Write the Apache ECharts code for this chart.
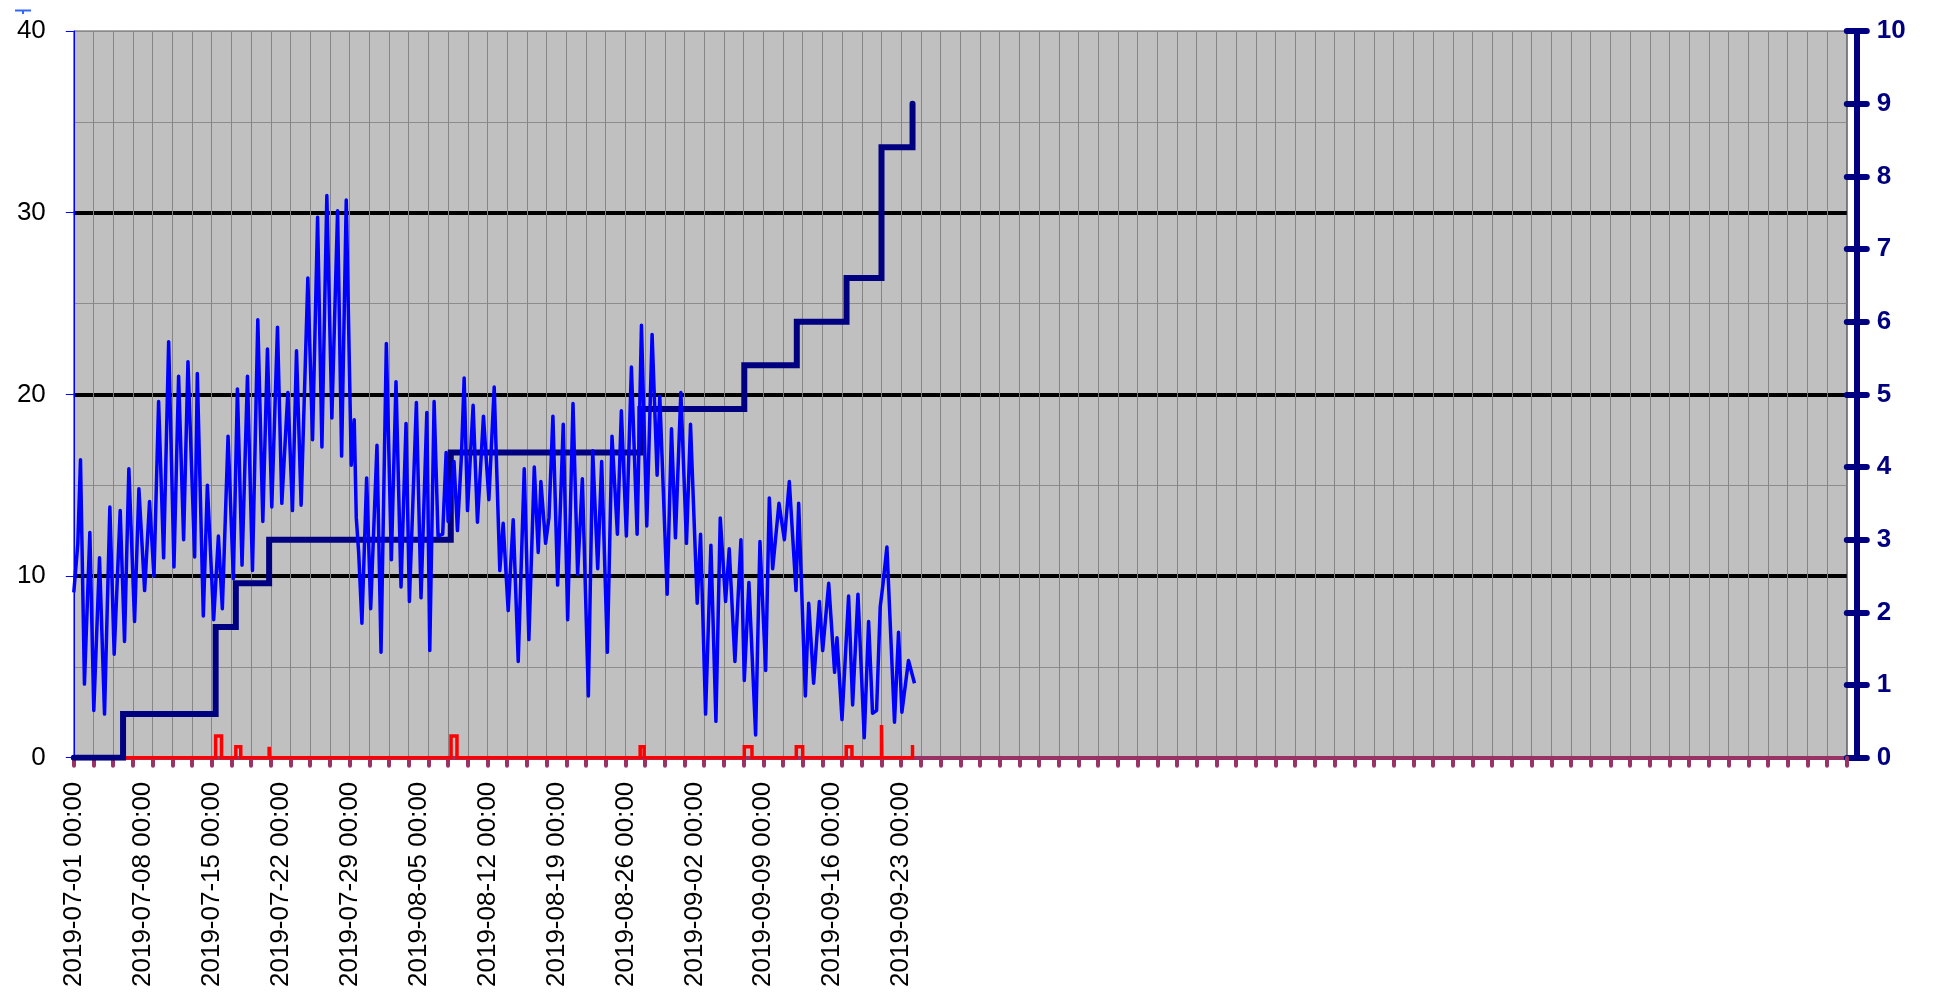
<!DOCTYPE html>
<html>
<head>
<meta charset="utf-8">
<script src="https://cdn.jsdelivr.net/npm/echarts@6/dist/echarts.min.js"></script>
<style>
html,body{margin:0;padding:0;background:#fff;}
#chart{width:1934px;height:995px;}
</style>
</head>
<body>
<div id="chart"></div>
<script>
// x values are days since 2019-07-01 00:00
const xLabels = ['2019-07-01 00:00','2019-07-08 00:00','2019-07-15 00:00','2019-07-22 00:00','2019-07-29 00:00',
  '2019-08-05 00:00','2019-08-12 00:00','2019-08-19 00:00','2019-08-26 00:00','2019-09-02 00:00',
  '2019-09-09 00:00','2019-09-16 00:00','2019-09-23 00:00'];
const leftTicks = [0, 10, 20, 30, 40];
const rightTicks = [0,1,2,3,4,5,6,7,8,9,10];

// Temperature (left axis)
const tempDays = [0.00,0.41,0.68,1.08,1.63,2.03,2.61,3.12,3.66,4.10,4.71,5.15,5.59,6.17,6.61,7.19,7.69,8.14,8.61,9.12,
  9.63,10.17,10.64,11.15,11.59,12.27,12.54,13.15,13.56,14.20,14.68,15.08,15.66,16.20,16.61,17.08,17.63,
  18.14,18.68,19.19,19.66,20.10,20.68,21.12,21.73,22.20,22.61,23.08,23.76,24.24,24.75,25.19,25.69,26.20,26.78,
  27.19,27.66,28.17,28.47,28.68,28.92,29.25,29.73,30.14,30.78,31.19,31.73,32.24,32.71,33.22,33.73,34.07,34.78,
  35.25,35.84,36.14,36.58,36.98,37.45,37.80,38.00,38.60,38.95,39.36,39.63,39.97,40.54,40.98,41.59,42.14,42.68,
  43.25,43.59,44.10,44.61,45.12,45.73,46.20,46.75,47.15,47.42,47.90,48.24,48.64,49.12,49.69,50.14,50.68,51.15,
  51.63,52.24,52.68,53.19,53.59,54.17,54.64,55.19,55.59,56.10,56.61,57.19,57.63,58.17,58.71,59.22,59.49,60.24,
  60.68,61.08,61.63,62.20,62.61,63.29,63.63,64.14,64.68,65.19,65.63,66.17,66.54,67.12,67.73,68.07,68.54,69.22,
  69.66,70.24,70.61,70.95,71.59,72.14,72.64,73.32,73.59,74.27,74.61,75.11,75.69,76.03,76.64,77.24,77.48,77.99,
  78.66,79.07,79.61,80.25,80.69,81.09,81.50,81.87,82.14,82.55,83.32,83.73,84.07,84.74,85.35];
const tempValues = [9.1,11.8,16.4,4.05,12.4,2.6,11.0,2.4,13.8,5.7,13.6,6.4,15.9,7.5,14.8,9.2,14.1,10.0,19.6,11.0,
  22.9,10.5,21.0,12.0,21.8,11.05,21.15,7.8,15.0,7.6,12.2,8.2,17.7,9.85,20.3,10.6,21.0,
  10.3,24.1,13.0,22.5,13.8,23.7,14.0,20.1,13.6,22.4,13.9,26.4,17.5,29.75,17.1,30.95,18.7,30.1,
  16.6,30.7,16.1,18.6,13.2,11.3,7.4,15.4,8.2,17.2,5.8,22.8,10.9,20.7,9.4,18.4,8.6,19.55,
  8.8,19.0,5.9,19.6,12.2,12.3,16.8,13.0,16.3,12.5,16.7,20.9,13.6,19.4,12.96,18.8,14.2,20.4,
  10.3,12.9,8.1,13.1,5.3,15.9,6.5,16.0,11.3,15.2,11.8,13.2,18.8,9.5,18.35,7.6,19.5,10.1,
  15.35,3.4,16.9,10.4,16.3,5.8,17.7,12.3,19.1,12.2,21.5,12.3,23.8,12.75,23.3,15.55,19.9,9.0,
  18.1,12.1,20.1,11.8,18.35,8.5,12.3,2.4,11.7,2.0,13.2,8.6,11.5,5.3,12.0,4.25,9.65,1.25,
  11.9,4.8,14.3,10.4,14.0,12.0,15.2,9.2,14.0,3.4,8.5,4.1,8.6,5.9,9.6,4.7,6.6,2.1,
  8.9,2.9,9.0,1.1,7.5,2.45,2.6,8.3,9.5,11.6,1.95,6.9,2.5,5.35,4.1];

// Cumulative (right axis)
const stepDays = [0, 5.0, 14.4, 16.45, 19.83, 38.27, 57.52, 68.07, 73.4, 78.45, 82.0, 85.15];
const stepValues = [0, 0.6, 1.8, 2.4, 3.0, 4.2, 4.8, 5.4, 6.0, 6.6, 8.4, 9.0];

// Per-event amounts (left axis)
const rainStart = [14.4, 16.45, 19.83, 38.3, 57.5, 68.07, 73.35, 78.42, 82.0, 85.15];
const rainEnd   = [15.0, 16.95, 19.88, 38.9, 57.9, 68.85, 74.0, 79.0, 82.04, 85.32];
const rainValue = [1.2, 0.6, 0.6, 1.2, 0.6, 0.6, 0.6, 0.6, 1.8, 0.6];

const tempData = tempDays.map((d, i) => [d, tempValues[i]]);
const stepData = stepDays.map((d, i) => [d, stepValues[i]]);
const rainData = [[0, 0]];
rainStart.forEach((s, i) => {
  rainData.push([s, 0], [s, rainValue[i]], [rainEnd[i], rainValue[i]]);
  if (i < rainStart.length - 1) rainData.push([rainEnd[i], 0]);
});

const FONT = '"Liberation Sans", Arial, sans-serif';
const NAVY = '#000080';
const gridBox = {left: 73.8, right: 87.2, top: 31, bottom: 237.3};
const chart = echarts.init(document.getElementById('chart'), null, {renderer: 'canvas'});
chart.setOption({
  animation: false,
  backgroundColor: '#ffffff',
  grid: [
    Object.assign({show: true, backgroundColor: '#c0c0c0', borderColor: '#555555', borderWidth: 1,
      containLabel: false, outerBoundsMode: 'none'}, gridBox),
    Object.assign({show: false, containLabel: false, outerBoundsMode: 'none'}, gridBox)
  ],
  graphic: [
    {type: 'line', shape: {x1: 15, y1: 10.5, x2: 31, y2: 10.5}, style: {stroke: '#3366ff', lineWidth: 2}},
    {type: 'line', shape: {x1: 23, y1: 10.5, x2: 23, y2: 14}, style: {stroke: '#3366ff', lineWidth: 2}}
  ],
  xAxis: [
    {
      gridIndex: 0, type: 'value', min: 0, max: 180, interval: 2, position: 'bottom',
      axisLine: {show: true, onZero: false, lineStyle: {color: '#993366', width: 4}},
      axisTick: {show: true, length: 8, lineStyle: {color: '#993366', width: 4, cap: 'round'}},
      axisLabel: {show: false},
      splitLine: {show: true, lineStyle: {color: '#858585', width: 1}}
    },
    {
      gridIndex: 1, type: 'value', min: 0, max: 180, interval: 7, position: 'bottom',
      axisLine: {show: false, onZero: false}, axisTick: {show: false}, splitLine: {show: false},
      axisLabel: {
        show: true, rotate: 90, margin: 24, fontSize: 26, color: '#000', fontFamily: FONT,
        formatter: v => { const i = Math.round(v / 7); return (v % 7 === 0 && i < xLabels.length) ? xLabels[i] : ''; }
      }
    }
  ],
  yAxis: [
    {
      gridIndex: 0, type: 'value', min: 0, max: 40, interval: 10, position: 'left',
      axisLine: {show: true, onZero: false, lineStyle: {color: '#0000ff', width: 1}},
      axisTick: {show: true, length: 8, lineStyle: {color: '#0000ff', width: 1}},
      axisLabel: {margin: 28, fontSize: 26, color: '#000', fontFamily: FONT,
        formatter: v => leftTicks.indexOf(v) >= 0 ? String(v) : ''},
      splitLine: {show: true, lineStyle: {color: ['transparent', '#000000', '#000000', '#000000', 'transparent'], width: 4}},
      minorTick: {show: false, splitNumber: 2},
      minorSplitLine: {show: true, lineStyle: {color: '#8c8c8c', width: 1}}
    },
    {
      gridIndex: 0, type: 'value', min: 0, max: 10, interval: 1, position: 'right', offset: 10,
      axisLine: {show: true, onZero: false, lineStyle: {color: NAVY, width: 6}},
      axisTick: {show: true, length: 10, lineStyle: {color: NAVY, width: 6, cap: 'round'}},
      axisLabel: {margin: 20, fontSize: 26, fontWeight: 'bold', color: NAVY, fontFamily: FONT,
        formatter: v => rightTicks.indexOf(v) >= 0 ? String(v) : ''},
      splitLine: {show: false}
    },
    {
      gridIndex: 1, type: 'value', min: 0, max: 10, interval: 1, position: 'right', offset: 0,
      axisLine: {show: false, onZero: false},
      axisTick: {show: true, length: 9, lineStyle: {color: NAVY, width: 6, cap: 'round'}},
      axisLabel: {show: false},
      splitLine: {show: false}
    }
  ],
  series: [
    {
      type: 'line', name: 'rain', data: rainData, xAxisIndex: 0, yAxisIndex: 0,
      showSymbol: false, symbol: 'none', z: 2,
      lineStyle: {color: '#ff0000', width: 3.5, join: 'miter'}
    },
    {
      type: 'line', name: 'cumulative', data: stepData, xAxisIndex: 0, yAxisIndex: 1, step: 'end',
      showSymbol: false, symbol: 'none', z: 3,
      lineStyle: {color: NAVY, width: 6, cap: 'round', join: 'miter'}
    },
    {
      type: 'line', name: 'temp', data: tempData, xAxisIndex: 0, yAxisIndex: 0,
      showSymbol: false, symbol: 'none', z: 4,
      lineStyle: {color: '#0000ff', width: 3.5, join: 'round'}
    }
  ]
});
</script>
</body>
</html>
